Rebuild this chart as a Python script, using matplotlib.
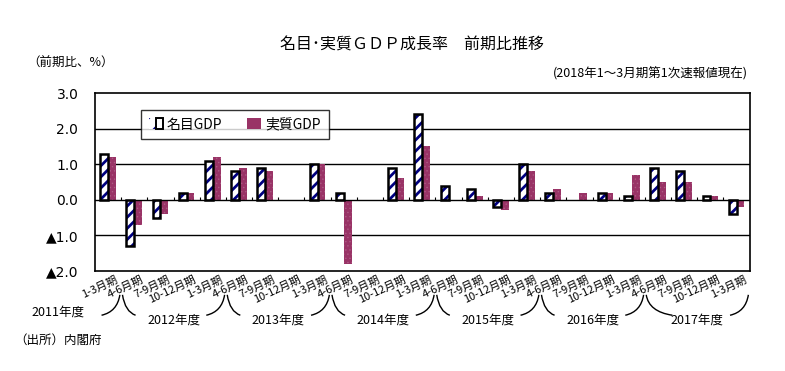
import numpy as np
import matplotlib
matplotlib.use('Agg')
from matplotlib import pyplot as plt
from matplotlib.path import Path
from matplotlib.patches import PathPatch
from matplotlib.legend_handler import HandlerTuple
import matplotlib.transforms as mtransforms

plt.rcParams['font.family'] = ['Noto Sans CJK JP', 'DejaVu Sans']
plt.rcParams['hatch.linewidth'] = 2.0

# quarters 2011年度1-3月期 .. 2017年度1-3月期
quarters = ['1-3月期'] + ['4-6月期', '7-9月期', '10-12月期', '1-3月期'] * 6
years = ['2011年度', '2012年度', '2013年度', '2014年度', '2015年度', '2016年度', '2017年度']
year_size = [1, 4, 4, 4, 4, 4, 4]

nominal = [1.3, -1.3, -0.5, 0.2, 1.1, 0.8, 0.9, 0.0, 1.0, 0.2, 0.0, 0.9, 2.4,
           0.4, 0.3, -0.2, 1.0, 0.2, 0.0, 0.2, 0.1, 0.9, 0.8, 0.1, -0.4]
real = [1.2, -0.7, -0.4, 0.2, 1.2, 0.9, 0.8, 0.0, 1.0, -1.8, 0.0, 0.6, 1.5,
        0.0, 0.1, -0.3, 0.8, 0.3, 0.2, 0.2, 0.7, 0.5, 0.5, 0.1, -0.2]

yticks = [3.0, 2.0, 1.0, 0.0, -1.0, -2.0]
ytick_labels = ['3.0', '2.0', '1.0', '0.0', '▲1.0', '▲2.0']

fig = plt.figure(figsize=(7.85, 3.71), dpi=100)
ax = fig.add_axes([0.121, 0.270, 0.834, 0.479])

x = np.arange(len(quarters))
w = 0.3
nom = np.array(nominal)
rea = np.array(real)
xn = x[nom != 0] - w / 2
xr_ = x[rea != 0] + w / 2

# nominal: white bars with navy hatching and black frame
ax.bar(xn, nom[nom != 0], w, color='white', edgecolor='#000080', hatch='///',
       linewidth=0, zorder=3)
ax.bar(xn, nom[nom != 0], w, fill=False, edgecolor='black', linewidth=1.8, zorder=4)
# real: maroon with faint dots
plt.rcParams['hatch.linewidth'] = 0.5
ax.bar(xr_, rea[rea != 0], w, color='#993366', edgecolor='#ad5a84', hatch='....',
       linewidth=0, zorder=3)

ax.set_xlim(-0.5, len(quarters) - 0.5)
ax.set_ylim(-2.0, 3.0)
ax.set_yticks(yticks)
ax.set_yticklabels(ytick_labels, fontsize=10, family=['DejaVu Sans'])
ax.set_xticks([])
ax.tick_params(axis='y', length=0, pad=12)
for v in [1.0, 2.0, -1.0]:
    ax.axhline(v, color='black', lw=1, zorder=1)
ax.axhline(0, color='black', lw=1, zorder=5)
ax.vlines(x[:-1] + 0.5, 0, 0.07, color='black', lw=0.8, zorder=5)
for s in ax.spines.values():
    s.set_linewidth(1.2)

# legend
plt.rcParams['hatch.linewidth'] = 1.8
h1a = plt.Rectangle((0, 0), 1, 1, facecolor='white', edgecolor='#000080', hatch='//', lw=0)
h1b = plt.Rectangle((0, 0), 1, 1, fill=False, edgecolor='black', lw=1.4)
h2 = plt.Rectangle((0, 0), 1, 1, facecolor='#993366', lw=0)
leg = ax.legend([(h1a, h1b), h2], ['名目GDP', '実質GDP'], ncol=2, loc='upper left',
                bbox_to_anchor=(0.06, 0.945), fontsize=10, frameon=True,
                fancybox=False, edgecolor='black', handlelength=1.0,
                handleheight=0.8, columnspacing=1.8, handletextpad=0.3,
                borderpad=0.55, handler_map={tuple: HandlerTuple(ndivide=None, pad=0)})
leg.get_frame().set_linewidth(1.0)

# quarter labels
for i, q in enumerate(quarters):
    ax.text(i + 0.35, -2.22, q, rotation=25, rotation_mode='anchor',
            ha='right', va='center', fontsize=8, clip_on=False)

# year labels with bracket curves
trans = mtransforms.blended_transform_factory(ax.transData, ax.transAxes)
start = 0
bounds = []
for n in year_size:
    bounds.append((start, start + n))
    start += n
ytop, ybot = -0.135, -0.25
for k, (a, b) in enumerate(bounds):
    cx = (a + b - 1) / 2
    ty = -0.23 if k == 0 else -0.275
    if k == 0:
        cx = -1.9
    ax.text(cx, ty, years[k], ha='center', va='center', fontsize=9, transform=trans)
    # right-hand curve of this group
    xr = b - 0.55
    verts = [(xr - 0.7, ybot), (xr - 0.1, ybot + 0.02), (xr, ytop)]
    ax.add_patch(PathPatch(Path(verts, [Path.MOVETO, Path.CURVE3, Path.CURVE3]),
                           fill=False, lw=1, transform=trans, clip_on=False))
    if k > 0:
        xl = a - 0.45
        wl = 1.0 if k == 6 else 0.5
        verts = [(xl, ytop), (xl + 0.1, ybot + 0.02), (xl + wl, ybot)]
        ax.add_patch(PathPatch(Path(verts, [Path.MOVETO, Path.CURVE3, Path.CURVE3]),
                               fill=False, lw=1, transform=trans, clip_on=False))

fig.text(0.525, 0.878, '名目･実質ＧＤＰ成長率　前期比推移', ha='center', va='center', fontsize=11.5)
fig.text(0.035, 0.83, '（前期比、%）', ha='left', va='center', fontsize=9)
fig.text(0.953, 0.802, '(2018年1～3月期第1次速報値現在)', ha='right', va='center', fontsize=9)
fig.text(0.018, 0.083, '（出所）内閣府', ha='left', va='center', fontsize=9)

fig.savefig('out.png', dpi=100)
